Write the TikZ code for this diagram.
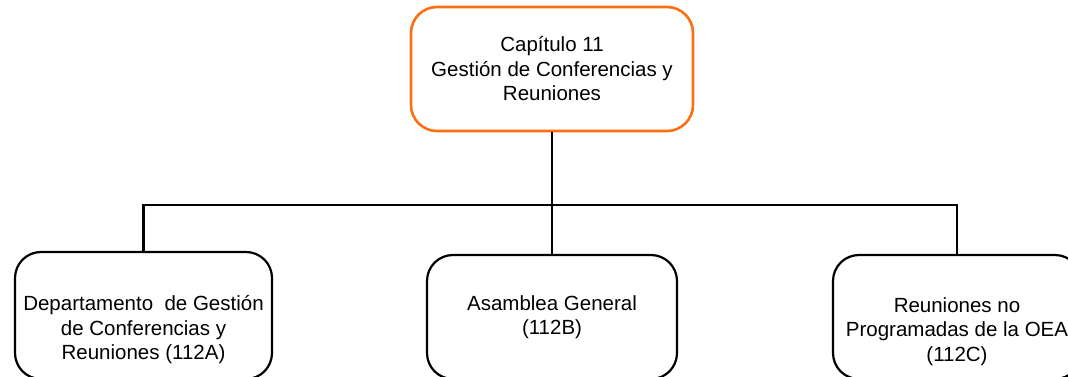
\documentclass[tikz,border=0pt]{standalone}
\usepackage{fontspec}
\setmainfont{Liberation Sans}
\definecolor{orgline}{RGB}{250,112,18}
\newcommand{\lowertext}{\rule{0pt}{44pt}}
\begin{document}
\begin{tikzpicture}[x=1pt,y=-1pt,
  box/.style={draw=black,line width=2.2pt,rounded corners=26pt,align=center,font=\fontsize{20.5}{24.5}\selectfont,inner sep=0pt},
  topbox/.style={box,draw=orgline,line width=2.6pt},
  conn/.style={draw=black,line width=2.4pt}]
\useasboundingbox (0,0) rectangle (1068,377);
\node[topbox,minimum width=282pt,minimum height=124pt] (top) at (552,69) {Capítulo 11\\Gestión de Conferencias y\\Reuniones};
\node[box,minimum width=257pt,minimum height=127pt] (a) at (143.5,315.5) {\lowertext Departamento\ \ de Gestión\\de Conferencias y\\Reuniones (112A)};
\node[box,minimum width=250pt,minimum height=124pt] (b) at (552,317) {Asamblea General\\(112B)};
\node[box,minimum width=248pt,minimum height=124pt] (c) at (957,317) {\lowertext Reuniones no\\Programadas de la OEA\\(112C)};
\coordinate (j) at (552,205);
\coordinate (jl) at (143.5,205);
\coordinate (jr) at (957,205);
\draw[conn] (top.south) -- (j);
\draw[conn] (a.north) -- (jl) -- (jr) -- (c.north);
\draw[conn] (j) -- (b.north);
\end{tikzpicture}
\end{document}
